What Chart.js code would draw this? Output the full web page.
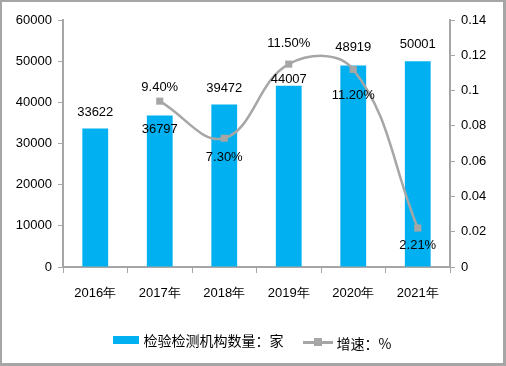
<!DOCTYPE html>
<html>
<head>
<meta charset="utf-8">
<script src="https://cdn.jsdelivr.net/npm/chart.js@4"></script>
<style>
  html, body { margin: 0; padding: 0; background: #fff; }
  #wrap { position: relative; width: 506px; height: 366px; box-sizing: border-box;
          border: 2px solid #a6a6a6; border-right-width: 3px; border-bottom-width: 3px; }
  #c { position: absolute; left: -2px; top: -2px; }
  #legend { position: absolute; left: 0; top: 326px; width: 100%; text-align: center;
            font: 14px "Noto Sans CJK SC", sans-serif; color: #000; }
  .item { display: inline-flex; align-items: center; margin: 0 8px; }
  .box { width: 26px; height: 8px; background: #00b0f0; margin-right: 4px; }
  .ln { position: relative; width: 30px; height: 3px; background: #a6a6a6; margin-right: 4px; }
  .ln i { position: absolute; left: 11px; top: -3px; width: 8px; height: 8px; background: #a6a6a6; }
</style>
</head>
<body>
<div id="wrap">
  <canvas id="c" width="506" height="366"></canvas>
  <div id="legend">
    <span class="item"><span class="box"></span>检验检测机构数量：家</span>
    <span class="item"><span class="ln"><i></i></span>增速：%</span>
  </div>
</div>
<script>
// dati
const years = ["2016年", "2017年", "2018年", "2019年", "2020年", "2021年"];
const jigou = [33622, 36797, 39472, 44007, 48919, 50001];
const zengsu = [null, 0.094, 0.073, 0.115, 0.112, 0.0221];
const zengsuLabels = ["", "9.40%", "7.30%", "11.50%", "11.20%", "2.21%"];

const colors = {
  bar: "#00b0f0",
  line: "#a6a6a6",
  axis: "#a6a6a6",
  text: "#000000",
};

// spostamenti verticali delle etichette (px)
const barLabelDy = [-16, 14, -16, -6, -18, -17];
const lineLabelDy = [0, -14, 19, -21, 26, 17];

const labelPlugin = {
  id: "valueLabels",
  afterDatasetsDraw(chart) {
    const ctx = chart.ctx;
    ctx.save();
    ctx.font = '13px "Liberation Sans", sans-serif';
    ctx.fillStyle = colors.text;
    ctx.textAlign = "center";
    ctx.textBaseline = "middle";
    chart.getDatasetMeta(1).data.forEach((el, i) => {
      ctx.fillText(String(jigou[i]), el.x, el.y + barLabelDy[i]);
    });
    chart.getDatasetMeta(0).data.forEach((el, i) => {
      if (zengsu[i] == null) return;
      ctx.fillText(zengsuLabels[i], el.x, el.y + lineLabelDy[i]);
    });
    ctx.restore();
  },
};

const tickFont = { family: '"Liberation Sans", sans-serif', size: 13 };

new Chart(document.getElementById("c"), {
  data: {
    labels: years,
    datasets: [
      {
        type: "line",
        label: "增速：%",
        data: zengsu,
        yAxisID: "y1",
        borderColor: colors.line,
        backgroundColor: colors.line,
        borderWidth: 2.5,
        tension: 0.4,
        pointStyle: "rect",
        pointRadius: 5,
        pointBorderWidth: 0,
        order: 0,
      },
      {
        type: "bar",
        label: "检验检测机构数量：家",
        data: jigou,
        yAxisID: "y",
        backgroundColor: colors.bar,
        categoryPercentage: 1,
        barPercentage: 0.4,
        order: 1,
      },
    ],
  },
  options: {
    responsive: false,
    animation: false,
    layout: { padding: { top: 20, left: 0, right: 0, bottom: 0 } },
    plugins: { legend: { display: false }, tooltip: { enabled: false } },
    scales: {
      x: {
        grid: { offset: true, drawOnChartArea: false, color: colors.axis, tickLength: 6 },
        border: { color: colors.axis, width: 2 },
        ticks: { color: colors.text, font: tickFont, padding: 13 },
        afterFit: (s) => { s.height = 99; },
      },
      y: {
        position: "left",
        min: 0, max: 60000,
        ticks: {
          stepSize: 10000, color: colors.text, font: tickFont, padding: 6,
          callback: (v) => String(v),
        },
        grid: { drawOnChartArea: false, color: colors.axis, tickLength: 5 },
        border: { color: colors.axis, width: 2 },
        afterFit: (s) => { s.width = 63; },
      },
      y1: {
        position: "right",
        min: 0, max: 0.14,
        ticks: {
          stepSize: 0.02, color: colors.text, font: tickFont, padding: 6,
          callback: (v) => String(Number(v.toFixed(2))),
        },
        grid: { drawOnChartArea: false, color: colors.axis, tickLength: 5 },
        border: { color: colors.axis, width: 2 },
        afterFit: (s) => { s.width = 56; },
      },
    },
  },
  plugins: [labelPlugin],
});
</script>
</body>
</html>
